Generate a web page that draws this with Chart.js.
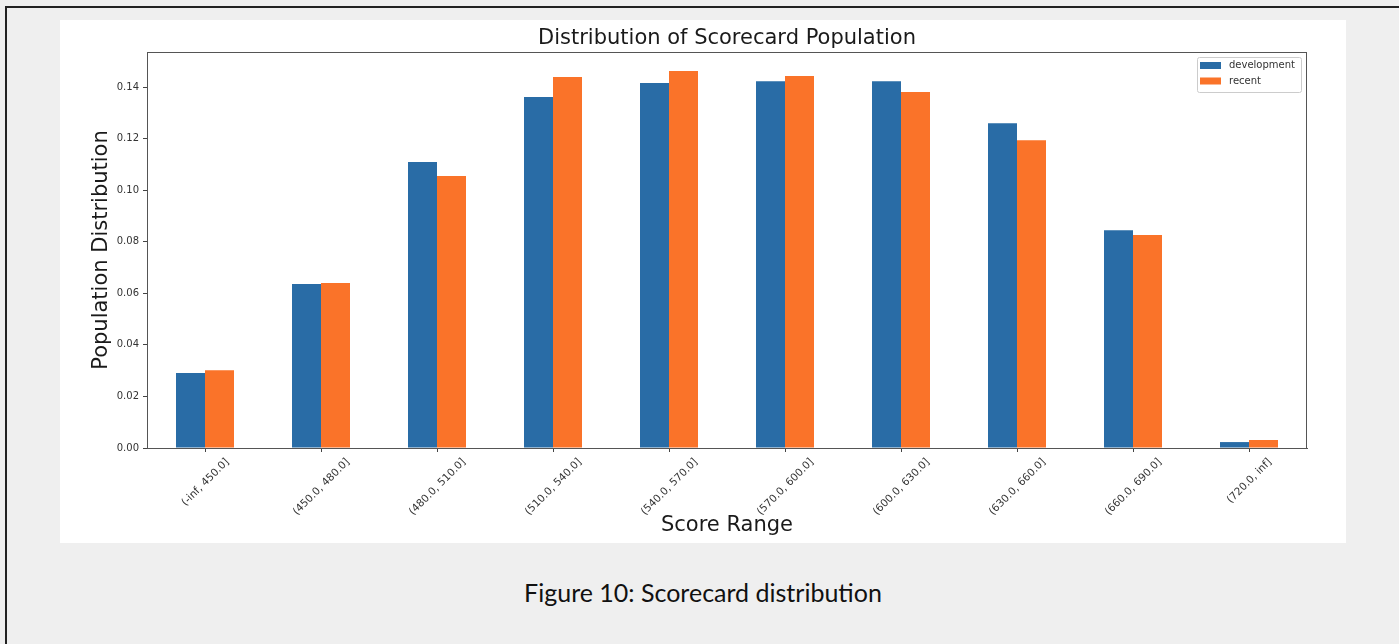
<!DOCTYPE html>
<html>
<head>
<meta charset="utf-8">
<script src="https://cdn.jsdelivr.net/npm/chart.js@4"></script>
<style>
  html, body { margin: 0; padding: 0; background: #efefef; overflow: hidden; width: 1399px; height: 644px; }
  #frame { position: absolute; left: 5px; top: 6px; width: 1500px; height: 800px; border: 2px solid #222; box-sizing: border-box; }
  #figure { position: absolute; left: 60px; top: 20px; width: 1286px; height: 523px; background: #fff; }
  #caption { position: absolute; left: 60px; width: 1286px; top: 577px; text-align: center; font-family: Lato, sans-serif; font-size: 25px; color: #111; }
</style>
</head>
<body>
<div id="frame"></div>
<div id="figure"><canvas id="scoreChart"></canvas></div>
<div id="caption">Figure 10: Scorecard distribution</div>
<script>
// ==========================================
// 1. DATA
// ==========================================
const scoreRanges = ['(-inf, 450.0]', '(450.0, 480.0]', '(480.0, 510.0]', '(510.0, 540.0]', '(540.0, 570.0]',
                     '(570.0, 600.0]', '(600.0, 630.0]', '(630.0, 660.0]', '(660.0, 690.0]', '(720.0, inf]'];
const development = [0.0291, 0.0636, 0.1109, 0.1361, 0.1416, 0.1423, 0.1423, 0.1260, 0.0845, 0.0023];
const recent      = [0.0302, 0.0640, 0.1055, 0.1439, 0.1462, 0.1443, 0.1381, 0.1194, 0.0826, 0.0031];
const yTicks = [0.00, 0.02, 0.04, 0.06, 0.08, 0.10, 0.12, 0.14];

const BLUE = '#296ca6';
const ORANGE = '#fa7329';
const MPL_FONT = '"DejaVu Sans", sans-serif';

// ==========================================
// 2. MATPLOTLIB-LIKE EXTRAS (title, box, legend, rotated labels)
// ==========================================
const mplExtras = {
    id: 'mplExtras',
    afterDraw(chart) {
        const ctx = chart.ctx;
        const area = chart.chartArea;
        ctx.save();

        // title
        ctx.fillStyle = '#1a1a1a';
        ctx.font = '21px ' + MPL_FONT;
        ctx.textAlign = 'center';
        ctx.textBaseline = 'middle';
        ctx.fillText('Distribution of Scorecard Population', (area.left + area.right) / 2, 19);

        // full spine box
        ctx.strokeStyle = '#555';
        ctx.lineWidth = 1;
        ctx.strokeRect(area.left + 0.5, area.top + 0.5, area.right - area.left - 1, area.bottom - area.top);

        // rotated x labels, centred on the tick like ha='center'
        const xs = chart.scales.x;
        ctx.font = '10.5px ' + MPL_FONT;
        ctx.fillStyle = '#333';
        scoreRanges.forEach((lbl, i) => {
            const x = xs.getPixelForTick(i);
            const w = ctx.measureText(lbl).width;
            const bh = (w + 10) * Math.SQRT1_2;
            ctx.save();
            ctx.translate(x + 0.5, area.bottom + 9 + bh / 2);
            ctx.rotate(-Math.PI / 4);
            ctx.fillText(lbl, 0, 0);
            ctx.restore();
        });

        // legend
        const bx = area.right - 110, by = area.top + 5, bw = 104, bh = 35;
        ctx.fillStyle = '#fff';
        ctx.strokeStyle = '#ccc';
        ctx.beginPath();
        ctx.roundRect(bx + 0.5, by + 0.5, bw, bh, 2);
        ctx.fill();
        ctx.stroke();
        ctx.textAlign = 'left';
        ctx.textBaseline = 'middle';
        ctx.font = '10px ' + MPL_FONT;
        chart.data.datasets.forEach((ds, i) => {
            const cy = by + 8.5 + i * 15.5;
            ctx.fillStyle = ds.backgroundColor;
            ctx.fillRect(bx + 3, cy - 3.5, 21, 7);
            ctx.fillStyle = '#333';
            ctx.fillText(ds.label, bx + 32, cy);
        });
        ctx.restore();
    }
};

// ==========================================
// 3. CHART
// ==========================================
const ctx = document.getElementById('scoreChart').getContext('2d');
new Chart(ctx, {
    type: 'bar',
    data: {
        labels: scoreRanges,
        datasets: [
            { label: 'development', data: development, backgroundColor: BLUE, borderWidth: 0 },
            { label: 'recent', data: recent, backgroundColor: ORANGE, borderWidth: 0 }
        ]
    },
    options: {
        responsive: true,
        maintainAspectRatio: false,
        animation: false,
        layout: { padding: { top: 32, right: 39, left: 0, bottom: 0 } },
        datasets: { bar: { categoryPercentage: 0.5, barPercentage: 1.0 } },
        scales: {
            x: {
                offset: true,
                grid: { display: true, offset: false, drawOnChartArea: false, drawTicks: true, tickLength: 4, color: '#444' },
                border: { display: true, color: '#555' },
                ticks: { display: false },
                title: { display: true, text: 'Score Range', color: '#1a1a1a', font: { family: MPL_FONT, size: 21 }, padding: { top: 0, bottom: 5 } },
                afterFit: (s) => { s.height = 95; }
            },
            y: {
                min: 0,
                max: 0.1536,
                afterBuildTicks: (s) => { s.ticks = yTicks.map(v => ({ value: v })); },
                grid: { display: true, drawOnChartArea: false, drawTicks: true, tickLength: 4, color: '#444' },
                border: { display: true, color: '#555' },
                ticks: { color: '#333', font: { family: MPL_FONT, size: 10 }, padding: 4, callback: (v) => Number(v).toFixed(2) },
                title: { display: true, text: 'Population Distribution', color: '#1a1a1a', font: { family: MPL_FONT, size: 21 }, padding: { top: 29, bottom: 0 } },
                afterFit: (s) => { s.width = 87; }
            }
        },
        plugins: {
            legend: { display: false },
            title: { display: false },
            tooltip: { enabled: false }
        }
    },
    plugins: [mplExtras]
});
</script>
</body>
</html>
